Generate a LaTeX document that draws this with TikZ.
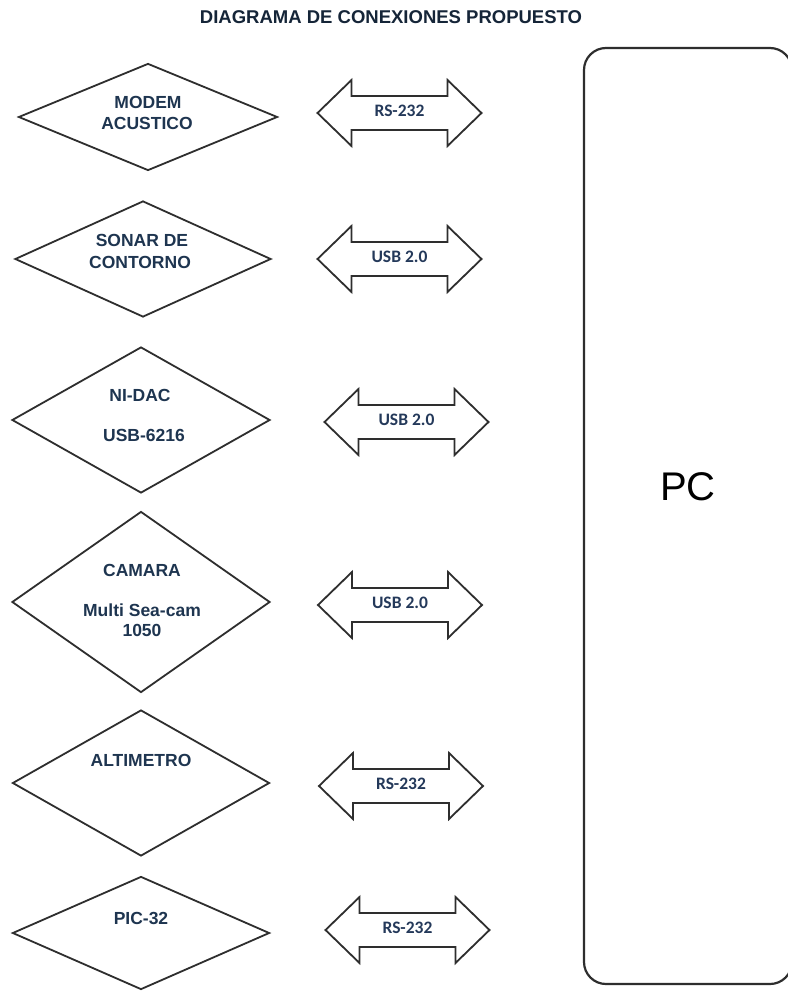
\documentclass[tikz,border=0pt]{standalone}
\usepackage{fontspec}
\setmainfont{Liberation Sans}
\newfontfamily\lblfont{Carlito}
\usetikzlibrary{shapes.geometric}
\definecolor{navy}{HTML}{1E3550}
\definecolor{lblnavy}{HTML}{24395A}
\definecolor{edge}{HTML}{2E2E2E}
\tikzset{
  dia/.style={draw=edge, line width=1.8pt, shape=diamond, inner sep=0pt, fill=white},
  dtext/.style={font=\fontsize{17.5}{20}\selectfont\bfseries, text=navy, inner sep=0pt, anchor=center},
  lbl/.style={font=\lblfont\fontsize{17.5}{20}\selectfont\bfseries, text=lblnavy, inner sep=0pt},
  arrowline/.style={draw=edge, line width=1.8pt, line join=miter, fill=white},
}
\newcommand\dblarr[4]{%
  \begin{scope}[shift={(#2,#3)}]
    \draw[arrowline] (-82,0) -- (-48,-33) -- (-48,-17) -- (48,-17) -- (48,-33) -- (82,0)
      -- (48,33) -- (48,17) -- (-48,17) -- (-48,33) -- cycle;
    \node[lbl] (#1) at (0,-2) {#4};
  \end{scope}}
\begin{document}
\begin{tikzpicture}[x=1pt,y=-1pt]
\useasboundingbox (0,0) rectangle (787,992);
\fill[white] (0,0) rectangle (787,992);
% title
\node[font=\fontsize{18.5}{22}\selectfont\bfseries, text=navy!70!black, inner sep=0pt] (title) at (391,17) {DIAGRAMA DE CONEXIONES PROPUESTO};
% PC box
\node[draw=edge, line width=2.2pt, rounded corners=22pt, minimum width=208pt, minimum height=936pt, inner sep=0pt] (pcbox) at (688,516) {};
\node[font=\fontsize{40}{46}\selectfont, inner sep=0pt] (pc) at (688,487) {PC};
% diamonds
\node[dia, minimum width=259pt, minimum height=107pt] (d1) at (148,117) {};
\node[dtext] (t1a) at (148,102) {MODEM};
\node[dtext] (t1b) at (147,123) {ACUSTICO};
\node[dia, minimum width=256pt, minimum height=116pt] (d2) at (143,259) {};
\node[dtext] (t2a) at (142,240) {SONAR DE};
\node[dtext] (t2b) at (140,262) {CONTORNO};
\node[dia, minimum width=258pt, minimum height=146pt] (d3) at (141,420) {};
\node[dtext] (t3a) at (140,395) {NI-DAC};
\node[dtext] (t3b) at (144,435) {USB-6216};
\node[dia, minimum width=258pt, minimum height=181pt] (d4) at (141,602) {};
\node[dtext] (t4a) at (142,570) {CAMARA};
\node[dtext] (t4b) at (142,610) {Multi Sea-cam};
\node[dtext] (t4c) at (142,630) {1050};
\node[dia, minimum width=257pt, minimum height=146pt] (d5) at (141,783) {};
\node[dtext] (t5) at (141,760) {ALTIMETRO};
\node[dia, minimum width=257pt, minimum height=113pt] (d6) at (141,933) {};
\node[dtext] (t6) at (141,918) {PIC-32};
% arrows
\dblarr{a1}{399.5}{113}{RS-232}
\dblarr{a2}{399.5}{259}{USB 2.0}
\dblarr{a3}{406.5}{422}{USB 2.0}
\dblarr{a4}{400}{605}{USB 2.0}
\dblarr{a5}{401}{786}{RS-232}
\dblarr{a6}{407.5}{930}{RS-232}
\end{tikzpicture}
\end{document}
